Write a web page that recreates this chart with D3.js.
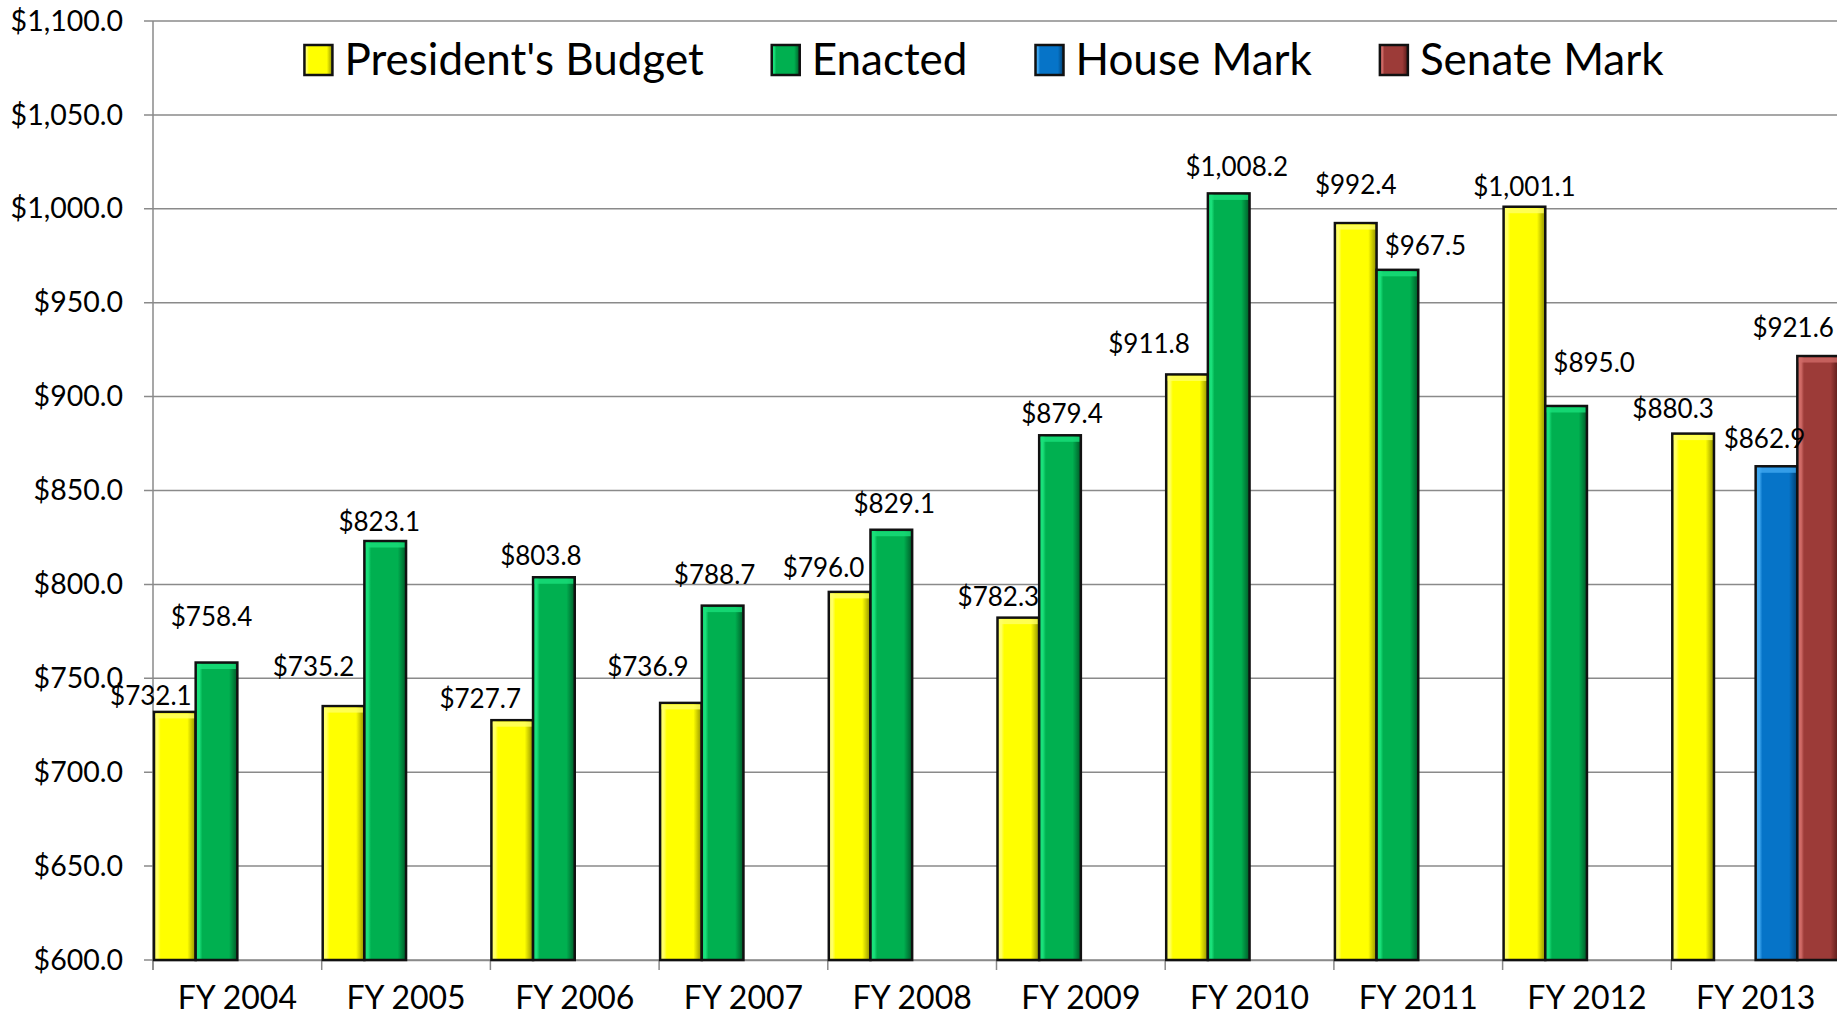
<!DOCTYPE html>
<html>
<head>
<meta charset="utf-8">
<script src="https://cdn.jsdelivr.net/npm/d3@7"></script>
<style>
  html, body { margin: 0; padding: 0; background: #fff; }
  svg { display: block; font-family: Lato, "Open Sans", sans-serif; }
</style>
</head>
<body>
<div id="chart"></div>
<script>
// Dữ liệu (triệu USD)
const categories = ["FY 2004","FY 2005","FY 2006","FY 2007","FY 2008","FY 2009","FY 2010","FY 2011","FY 2012","FY 2013"];
const seriesNames = ["President's Budget","Enacted","House Mark","Senate Mark"];
const presidentsBudget = [732.1, 735.2, 727.7, 736.9, 796.0, 782.3, 911.8, 992.4, 1001.1, 880.3];
const enacted          = [758.4, 823.1, 803.8, 788.7, 829.1, 879.4, 1008.2, 967.5, 895.0, null];
const houseMark        = [null, null, null, null, null, null, null, null, null, 862.9];
const senateMark       = [null, null, null, null, null, null, null, null, null, 921.6];
const yTicks = [600, 650, 700, 750, 800, 850, 900, 950, 1000, 1050, 1100];

// Dịch nhãn thủ công như bản gốc (px, [dx, dy])
const labelNudge = {
  "President's Budget": [[-24,9],[-30,-14],[-32,4],[-33,-11],[-26,1],[-20,4],[-38,-6],[0,-13],[0,5],[-20,0]],
  "Enacted":            [[-5,-21],[-6,6],[-13,3],[-8,-6],[3,-1],[2,3],[8,-2],[28,1],[28,-18],[0,0]],
  "House Mark":         [[0,0],[0,0],[0,0],[0,0],[0,0],[0,0],[0,0],[0,0],[0,0],[-12,-3]],
  "Senate Mark":        [[0,0],[0,0],[0,0],[0,0],[0,0],[0,0],[0,0],[0,0],[0,0],[-25,-3]]
};

const seriesValues = [presidentsBudget, enacted, houseMark, senateMark];

// Màu: [sáng, chính, tối]
const colors = {
  "President's Budget": ["#ffff66", "#ffff00", "#8f8f00"],
  "Enacted":            ["#19e07a", "#00b050", "#005a28"],
  "House Mark":         ["#40a8f0", "#0674c8", "#023d6c"],
  "Senate Mark":        ["#d06a66", "#9c3b38", "#561816"]
};

const W = 1837, H = 1015;
const margin = { top: 21, left: 153 };
const plotW = 1687, plotH = 939;
const FONT = 'Lato, "Open Sans", sans-serif';

const svg = d3.select("#chart").append("svg")
  .attr("width", W).attr("height", H);

// Gradient giả hiệu ứng bevel
const defs = svg.append("defs");
seriesNames.forEach((s, i) => {
  const c = colors[s];
  const g = defs.append("linearGradient").attr("id", "grad" + i)
    .attr("x1", "0%").attr("x2", "100%").attr("y1", "0%").attr("y2", "0%");
  g.append("stop").attr("offset", "0%").attr("stop-color", c[0]);
  g.append("stop").attr("offset", "9%").attr("stop-color", c[0]);
  g.append("stop").attr("offset", "16%").attr("stop-color", c[1]);
  g.append("stop").attr("offset", "80%").attr("stop-color", c[1]);
  g.append("stop").attr("offset", "100%").attr("stop-color", c[2]);
});

const g = svg.append("g").attr("transform", `translate(${margin.left},${margin.top})`);

const y = d3.scaleLinear().domain([600, 1100]).range([plotH, 0]);
const x0 = d3.scaleBand().domain(categories).range([0, plotW]);
const x1 = d3.scaleBand().domain(seriesNames).range([1, x0.bandwidth() - 1]);

// Lưới ngang
g.append("g")
  .selectAll("line").data(yTicks).enter().append("line")
    .attr("x1", -9).attr("x2", plotW)
    .attr("y1", d => y(d)).attr("y2", d => y(d))
    .attr("stroke", "#8a8a8a").attr("stroke-width", 1.5);

// Trục Y
const yAxis = g.append("g")
  .call(d3.axisLeft(y).tickValues(yTicks).tickSize(0).tickPadding(30)
    .tickFormat(d => "$" + d3.format(",.1f")(d)))
  .attr("font-family", FONT);
yAxis.select(".domain").remove();
yAxis.selectAll("text").style("font-size", "28.5px").attr("fill", "#000");
g.append("line").attr("x1", 0).attr("x2", 0).attr("y1", 0).attr("y2", plotH + 10)
  .attr("stroke", "#8a8a8a").attr("stroke-width", 1.5);

// Trục X
const xAxis = g.append("g").attr("transform", `translate(0,${plotH})`)
  .call(d3.axisBottom(x0).tickSize(0).tickPadding(26))
  .attr("font-family", FONT);
xAxis.select(".domain").attr("stroke", "#8a8a8a").attr("stroke-width", 1.5);
xAxis.selectAll("text").style("font-size", "32px").attr("fill", "#000");
g.append("g").selectAll("line").data(categories).enter().append("line")
  .attr("x1", d => x0(d)).attr("x2", d => x0(d))
  .attr("y1", plotH).attr("y2", plotH + 10)
  .attr("stroke", "#8a8a8a").attr("stroke-width", 1.5);

// Dữ liệu phẳng
const flat = [];
seriesNames.forEach((s, si) => {
  categories.forEach((c, ci) => {
    const v = seriesValues[si][ci];
    if (v != null) flat.push({ s, si, c, ci, v });
  });
});

// Cột
const bars = g.append("g").selectAll("g.bar").data(flat).enter().append("g").attr("class", "bar");
bars.append("rect")
  .attr("x", d => x0(d.c) + x1(d.s))
  .attr("y", d => y(d.v))
  .attr("width", x1.bandwidth())
  .attr("height", d => y(600) - y(d.v))
  .attr("fill", d => `url(#grad${d.si})`)
  .attr("stroke", "#111").attr("stroke-width", 2.5);
// viền sáng phía trên
bars.append("rect")
  .attr("x", d => x0(d.c) + x1(d.s) + 1.5)
  .attr("y", d => y(d.v) + 1.5)
  .attr("width", x1.bandwidth() - 3)
  .attr("height", 5)
  .attr("fill", d => colors[d.s][0]).attr("opacity", 0.8);

// Nhãn giá trị
g.append("g").selectAll("text").data(flat).enter().append("text")
  .attr("x", d => x0(d.c) + x1(d.s) + x1.bandwidth() / 2 + labelNudge[d.s][d.ci][0])
  .attr("y", d => y(d.v) - 25 + labelNudge[d.s][d.ci][1] + 9.3)
  .attr("text-anchor", "middle")
  .style("font-size", "26px")
  .attr("fill", "#000")
  .text(d => "$" + d3.format(",.1f")(d.v));

// Chú giải
const legend = svg.append("g");
let lx = 0;
seriesNames.forEach((s, i) => {
  const item = legend.append("g").attr("transform", `translate(${lx},0)`);
  item.append("rect").attr("x", 0).attr("y", 45).attr("width", 28).attr("height", 30)
    .attr("fill", `url(#grad${i})`).attr("stroke", "#111").attr("stroke-width", 2.5);
  const t = item.append("text").attr("x", 40).attr("y", 75)
    .style("font-size", "44px").attr("fill", "#000").text(s);
  lx += 40 + t.node().getComputedTextLength() + 68;
});
const legendW = lx - 68;
legend.attr("transform", `translate(${984 - legendW / 2},0)`);
</script>
</body>
</html>
